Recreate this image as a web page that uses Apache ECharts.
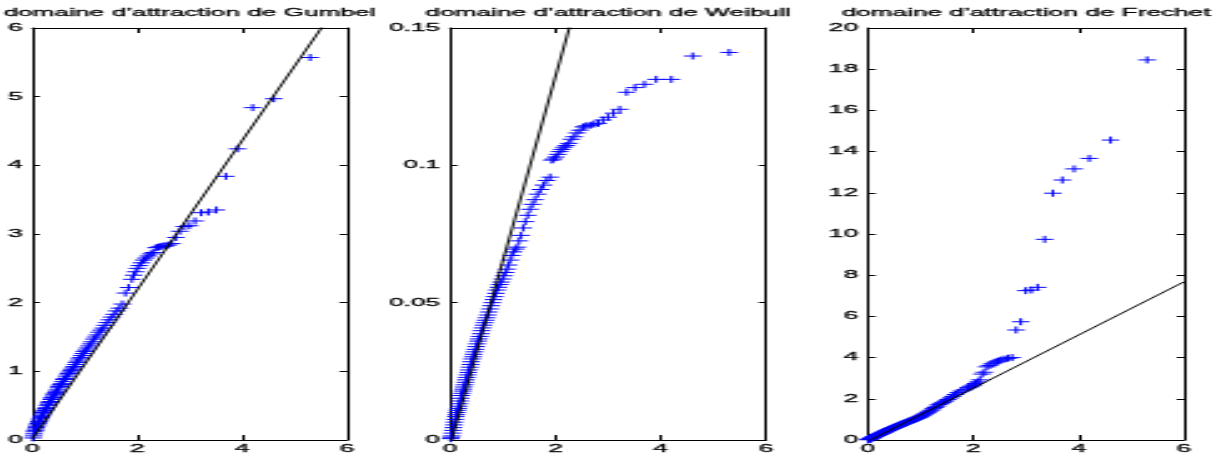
<!DOCTYPE html>
<html>
<head>
	<meta charset="utf-8">
	<title>domaines d'attraction</title>
	<style>
		body {
			margin: 0;
			overflow: hidden;
			background: #fff;
		}
		/* the reference figure is stretched sideways, so the chart is drawn narrow and scaled */
		#main {
			width: 486px;
			height: 458px;
			transform: scaleX(2.49794);
			transform-origin: 0 0;
		}
	</style>
</head>
<body>
	<div id="main"></div>
</body>
<script type="text/javascript" src="https://cdn.jsdelivr.net/npm/echarts@6.0.0/dist/echarts.min.js"></script>
<script type="text/javascript">
	// quantiles exponentiels (abscisse commune aux trois graphes)
	var xq = [
		0.010, 0.020, 0.030, 0.041, 0.051, 0.062, 0.073, 0.083, 0.094, 0.105,
		0.117, 0.128, 0.139, 0.151, 0.163, 0.174, 0.186, 0.198, 0.211, 0.223,
		0.236, 0.248, 0.261, 0.274, 0.288, 0.301, 0.315, 0.329, 0.342, 0.357,
		0.371, 0.386, 0.400, 0.416, 0.431, 0.446, 0.462, 0.478, 0.494, 0.511,
		0.528, 0.545, 0.562, 0.580, 0.598, 0.616, 0.635, 0.654, 0.673, 0.693,
		0.713, 0.734, 0.755, 0.777, 0.799, 0.821, 0.844, 0.868, 0.892, 0.916,
		0.942, 0.968, 0.994, 1.022, 1.050, 1.079, 1.109, 1.139, 1.171, 1.204,
		1.238, 1.273, 1.309, 1.347, 1.386, 1.427, 1.470, 1.514, 1.561, 1.609,
		1.660, 1.715, 1.772, 1.833, 1.897, 1.931, 1.966, 2.002, 2.040, 2.079,
		2.120, 2.163, 2.207, 2.254, 2.303, 2.354, 2.408, 2.465, 2.526, 2.590,
		2.659, 2.733, 2.813, 2.900, 2.996, 3.101, 3.219, 3.352, 3.507, 3.689,
		3.912, 4.200, 4.605, 5.298
	];

	var yGumbel = [
		0.03, 0.06, 0.09, 0.12, 0.14, 0.16, 0.18, 0.20, 0.22, 0.24,
		0.26, 0.27, 0.29, 0.31, 0.33, 0.34, 0.36, 0.38, 0.40, 0.41,
		0.43, 0.45, 0.46, 0.47, 0.50, 0.52, 0.54, 0.55, 0.56, 0.59,
		0.61, 0.62, 0.64, 0.66, 0.68, 0.69, 0.71, 0.73, 0.76, 0.78,
		0.80, 0.81, 0.82, 0.85, 0.88, 0.89, 0.90, 0.93, 0.96, 0.97,
		0.99, 1.01, 1.03, 1.05, 1.07, 1.10, 1.13, 1.15, 1.18, 1.20,
		1.23, 1.26, 1.29, 1.31, 1.34, 1.37, 1.40, 1.43, 1.47, 1.50,
		1.53, 1.57, 1.60, 1.63, 1.67, 1.71, 1.75, 1.79, 1.83, 1.88,
		1.92, 1.98, 2.14, 2.22, 2.34, 2.40, 2.45, 2.50, 2.54, 2.58,
		2.62, 2.65, 2.68, 2.71, 2.73, 2.80, 2.81, 2.82, 2.83, 2.84,
		2.86, 2.95, 3.04, 3.11, 3.12, 3.19, 3.31, 3.32, 3.35, 3.84,
		4.24, 4.84, 4.97, 5.57
	];

	var yWeibull = [
		0.0005, 0.0010, 0.0015, 0.0025, 0.0035, 0.0045, 0.0055, 0.0065, 0.0075, 0.0085,
		0.0092, 0.0100, 0.0108, 0.0115, 0.0123, 0.0132, 0.0142, 0.0152, 0.0162, 0.0170,
		0.0178, 0.0185, 0.0193, 0.0201, 0.0210, 0.0219, 0.0228, 0.0237, 0.0246, 0.0255,
		0.0265, 0.0275, 0.0285, 0.0295, 0.0303, 0.0312, 0.0321, 0.0330, 0.0340, 0.0350,
		0.0360, 0.0368, 0.0377, 0.0387, 0.0398, 0.0408, 0.0418, 0.0427, 0.0436, 0.0445,
		0.0455, 0.0466, 0.0477, 0.0489, 0.0500, 0.0511, 0.0522, 0.0534, 0.0546, 0.0556,
		0.0566, 0.0575, 0.0586, 0.0598, 0.0610, 0.0622, 0.0637, 0.0655, 0.0672, 0.0685,
		0.0695, 0.0702, 0.0725, 0.0745, 0.0772, 0.0795, 0.0818, 0.0840, 0.0858, 0.0875,
		0.0895, 0.0912, 0.0928, 0.0945, 0.0957, 0.1019, 0.1023, 0.1030, 0.1040, 0.1050,
		0.1058, 0.1066, 0.1072, 0.1080, 0.1095, 0.1104, 0.1118, 0.1128, 0.1140, 0.1144,
		0.1146, 0.1150, 0.1153, 0.1165, 0.1175, 0.1190, 0.1204, 0.1266, 0.1283, 0.1295,
		0.1313, 0.1313, 0.1398, 0.1411
	];

	var yFrechet = [
		0.01, 0.03, 0.04, 0.05, 0.07, 0.08, 0.10, 0.11, 0.13, 0.14,
		0.16, 0.17, 0.19, 0.20, 0.22, 0.23, 0.24, 0.26, 0.27, 0.29,
		0.30, 0.32, 0.33, 0.35, 0.36, 0.38, 0.39, 0.41, 0.43, 0.45,
		0.46, 0.48, 0.50, 0.52, 0.54, 0.55, 0.57, 0.59, 0.60, 0.62,
		0.64, 0.66, 0.68, 0.70, 0.72, 0.74, 0.76, 0.78, 0.80, 0.82,
		0.84, 0.86, 0.88, 0.91, 0.93, 0.95, 0.98, 1.00, 1.02, 1.05,
		1.07, 1.10, 1.13, 1.17, 1.21, 1.26, 1.30, 1.35, 1.40, 1.45,
		1.52, 1.58, 1.64, 1.72, 1.78, 1.83, 1.89, 1.96, 2.04, 2.12,
		2.21, 2.30, 2.38, 2.44, 2.53, 2.57, 2.62, 2.67, 2.74, 2.82,
		2.92, 3.20, 3.29, 3.55, 3.62, 3.70, 3.78, 3.83, 3.88, 3.93,
		3.97, 4.00, 5.34, 5.74, 7.25, 7.28, 7.41, 9.74, 11.98, 12.62,
		13.16, 13.67, 14.56, 18.45
	];

	var titles = ['domaine d’attraction de Gumbel', 'domaine d’attraction de Weibull', 'domaine d’attraction de Frechet'];
	var yData = [yGumbel, yWeibull, yFrechet];
	var yMax = [6, 0.15, 20];
	var yStep = [1, 0.05, 2];
	// droites d'ajustement y = a*x + b
	var fitSlope = [1.085, 0.0672, 1.29];
	var fitIntercept = [0.02, -0.002, -0.06];

	var gridLeft = [12.8, 180.2, 347.5];
	var gridWidth = [126.1, 126.5, 126.5];
	var font = '"Liberation Sans", Arial, Helvetica, sans-serif';
	var cross = 'path://M0,5L10,5M5,0L5,10';
	var txt = { fontSize: 10.5, color: '#000', fontFamily: font, textBorderColor: '#000', textBorderWidth: 0.3 };

	var option = {
		animation: false,
		backgroundColor: '#fff',
		title: [],
		grid: [],
		xAxis: [],
		yAxis: [],
		series: []
	};

	for (var k = 0; k < 3; k++) {
		option.title.push({
			text: titles[k],
			left: gridLeft[k] + gridWidth[k] / 2,
			top: 8,
			textAlign: 'center',
			padding: 0,
			textStyle: Object.assign({ fontWeight: 'normal' }, txt)
		});
		option.grid.push({ left: gridLeft[k], width: gridWidth[k], top: 28, bottom: 18 });

		// bas + haut
		option.xAxis.push({
			type: 'value', gridIndex: k, min: 0, max: 6, interval: 2, position: 'bottom',
			axisLine: { onZero: false, lineStyle: { color: '#000', width: 1 } },
			axisTick: { inside: true, length: 5, lineStyle: { color: '#000' } },
			axisLabel: Object.assign({ margin: 4 }, txt),
			splitLine: { show: false }
		});
		option.xAxis.push({
			type: 'value', gridIndex: k, min: 0, max: 6, interval: 2, position: 'top',
			axisLine: { onZero: false, lineStyle: { color: '#000', width: 1 } },
			axisTick: { inside: true, length: 5, lineStyle: { color: '#000' } },
			axisLabel: { show: false },
			splitLine: { show: false }
		});
		// gauche + droite
		option.yAxis.push({
			type: 'value', gridIndex: k, min: 0, max: yMax[k], interval: yStep[k], position: 'left',
			axisLine: { show: true, onZero: false, lineStyle: { color: '#000', width: 1 } },
			axisTick: { show: true, inside: true, length: 3, lineStyle: { color: '#000' } },
			axisLabel: Object.assign({ margin: 4 }, txt),
			splitLine: { show: false }
		});
		option.yAxis.push({
			type: 'value', gridIndex: k, min: 0, max: yMax[k], interval: yStep[k], position: 'right',
			axisLine: { show: true, onZero: false, lineStyle: { color: '#000', width: 1 } },
			axisTick: { show: true, inside: true, length: 3, lineStyle: { color: '#000' } },
			axisLabel: { show: false },
			splitLine: { show: false }
		});

		var pts = [];
		for (var i = 0; i < xq.length; i++) {
			pts.push([xq[i], yData[k][i]]);
		}
		option.series.push({
			type: 'scatter',
			xAxisIndex: 2 * k,
			yAxisIndex: 2 * k,
			data: pts,
			symbol: cross,
			symbolSize: 7,
			itemStyle: { color: 'rgba(0,0,0,0)', borderColor: '#0000ff', borderWidth: 1, opacity: 1 },
			emphasis: { disabled: true },
			z: 2
		});
		option.series.push({
			type: 'line',
			xAxisIndex: 2 * k,
			yAxisIndex: 2 * k,
			data: [[0, fitIntercept[k]], [6, fitIntercept[k] + 6 * fitSlope[k]]],
			symbol: 'none',
			clip: true,
			lineStyle: { color: '#000', width: 1 },
			emphasis: { disabled: true },
			z: 3
		});
	}

	var myChart = echarts.init(document.getElementById('main'));
	myChart.setOption(option);
</script>
</html>
